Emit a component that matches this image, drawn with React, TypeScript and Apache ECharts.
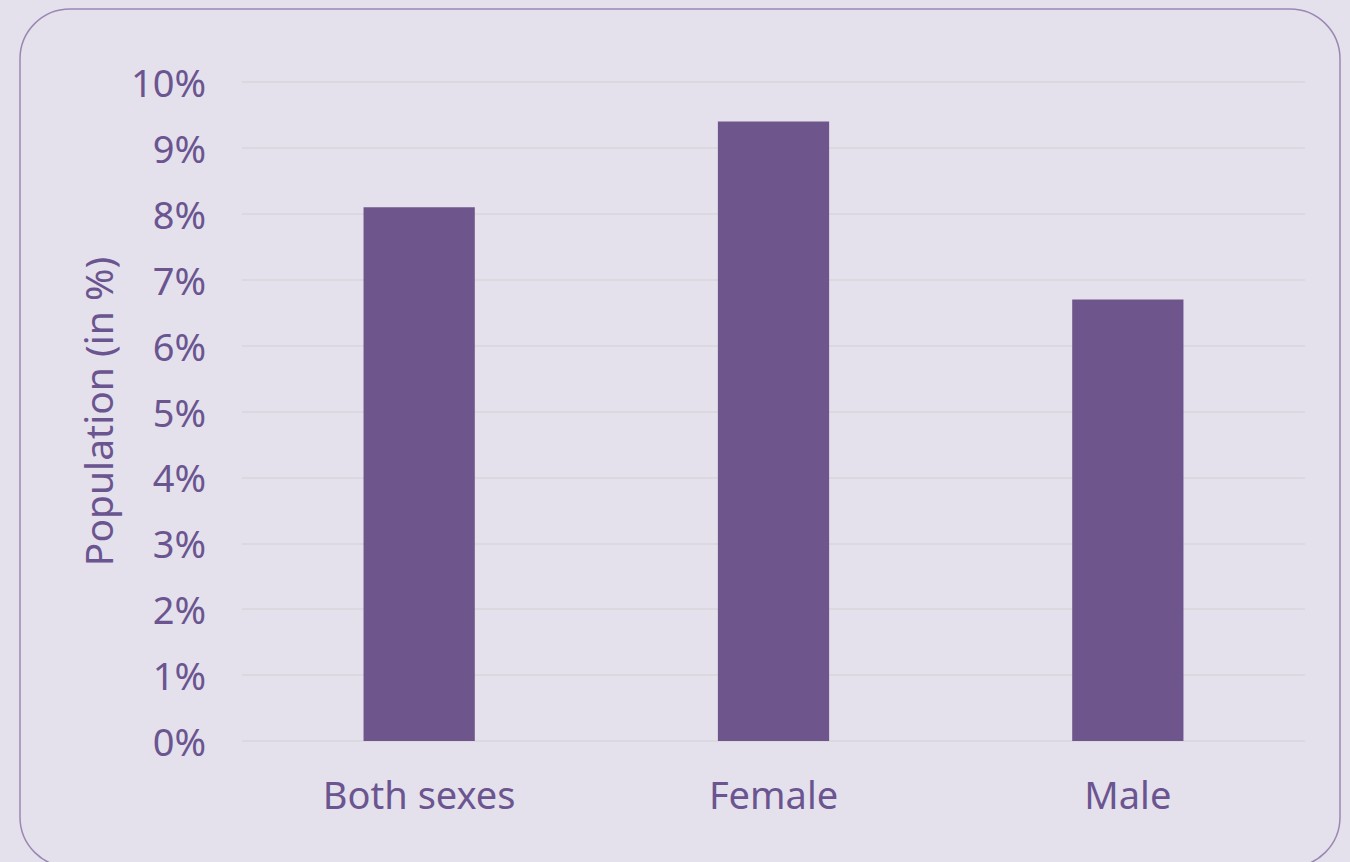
import React, { useEffect, useRef } from "react";
import * as echarts from "echarts";

const categories = ["Both sexes", "Female", "Male"];
const values = [8.1, 9.4, 6.7];
const yTicks = [0, 1, 2, 3, 4, 5, 6, 7, 8, 9, 10];

const TEXT = "#6b5590";
const BAR = "#6e568c";
const BG = "#e4e1ec";
const FONT = "'Noto Sans', 'Open Sans', sans-serif";

export default function App() {
  const ref = useRef<HTMLDivElement>(null);
  useEffect(() => {
    if (!ref.current) return;
    const chart = echarts.init(ref.current, undefined, { renderer: "svg" });
    chart.setOption({
      animation: false,
      backgroundColor: BG,
      textStyle: { fontFamily: FONT },
      graphic: [
        {
          type: "rect",
          z: -10,
          silent: true,
          shape: { x: 20, y: 9, width: 1320, height: 858, r: 50 },
          style: { fill: "transparent", stroke: "#9a88b3", lineWidth: 1.5 },
        },
      ],
      grid: { left: 242, right: 45, top: 82, bottom: 121 },
      xAxis: {
        type: "category",
        data: categories,
        axisLine: { show: false },
        axisTick: { show: false },
        axisLabel: { color: TEXT, fontSize: 38, margin: 34, fontFamily: FONT },
      },
      yAxis: {
        type: "value",
        min: 0,
        max: yTicks[yTicks.length - 1],
        interval: 1,
        name: "Population (in %)",
        nameLocation: "middle",
        nameRotate: 90,
        nameGap: 125,
        nameTextStyle: { color: TEXT, fontSize: 39, fontFamily: FONT },
        axisLine: { show: false },
        axisTick: { show: false },
        axisLabel: {
          color: TEXT,
          fontSize: 38,
          margin: 36,
          fontFamily: FONT,
          formatter: (v: number) => `${v}%`,
        },
        splitLine: { lineStyle: { color: "#d8d5dc", width: 1.5 } },
      },
      series: [
        {
          type: "bar",
          data: values,
          barWidth: "31.4%",
          itemStyle: { color: BAR },
        },
      ],
    });
    return () => chart.dispose();
  }, []);
  return (
    <div style={{ position: "fixed", left: 0, top: 0, width: 1350, height: 862, background: BG }}>
      <div ref={ref} style={{ width: 1350, height: 862 }} />
    </div>
  );
}
